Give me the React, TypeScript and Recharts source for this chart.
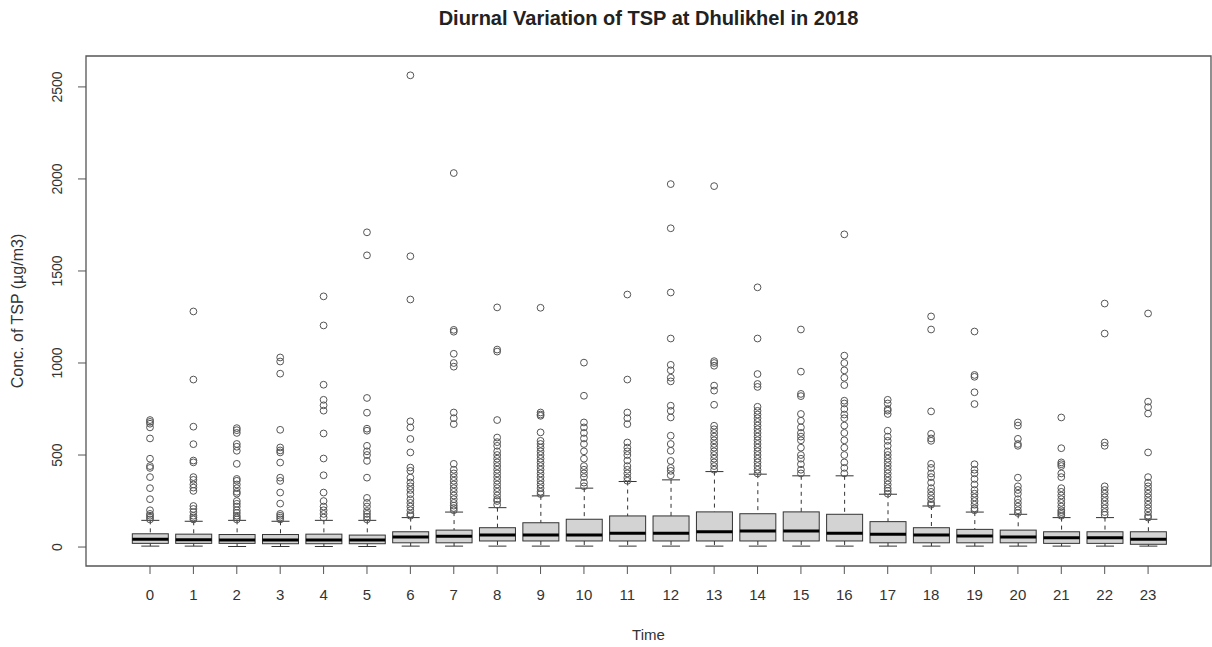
import { ComposedChart, Bar, Scatter, XAxis, YAxis, ReferenceArea } from 'recharts'

// hour of day, 0..23
const HOURS = Array.from({ length: 24 }, (_, i) => i)
const Y_TICKS = [0, 500, 1000, 1500, 2000, 2500]

// box statistics (µg/m3)
const LO = [5, 5, 3, 3, 3, 3, 5, 5, 5, 5, 5, 5, 5, 5, 5, 5, 5, 5, 5, 5, 5, 5, 5, 5]
const Q1 = [20, 20, 20, 18, 18, 18, 23, 23, 33, 33, 33, 33, 33, 33, 33, 33, 33, 23, 23, 23, 23, 20, 20, 15]
const MED = [42, 40, 38, 38, 38, 38, 54, 58, 65, 65, 65, 75, 75, 83, 87, 87, 75, 69, 65, 60, 54, 51, 51, 42]
const Q3 = [72, 70, 68, 68, 70, 65, 83, 92, 105, 132, 151, 169, 169, 191, 181, 191, 178, 138, 105, 96, 92, 83, 83, 83]
const HI = [145, 140, 145, 140, 145, 145, 160, 190, 214, 278, 320, 356, 365, 410, 396, 387, 387, 287, 223, 190, 178, 160, 160, 151]

const OUTLIERS: number[][] = [
  [690, 680, 670, 650, 590, 480, 440, 430, 380, 320, 260, 200, 180, 170, 160, 150],
  [1280, 910, 654, 559, 470, 460, 380, 365, 340, 323, 305, 223, 207, 190, 170, 160, 150],
  [646, 635, 620, 560, 545, 523, 452, 370, 360, 340, 320, 300, 290, 250, 235, 220, 200, 185, 170, 160, 150],
  [1030, 1008, 942, 637, 541, 525, 514, 459, 377, 359, 296, 236, 180, 170, 160, 150],
  [1362, 1204, 882, 800, 770, 741, 617, 481, 390, 296, 250, 220, 200, 180, 160],
  [1710, 1585, 810, 730, 643, 632, 550, 520, 500, 468, 377, 267, 240, 220, 196, 180, 165, 150],
  [2563, 1580, 1345, 683, 650, 587, 514, 432, 414, 377, 350, 330, 310, 287, 260, 240, 220, 200, 180, 170],
  [2032, 1180, 1170, 1050, 1000, 980, 731, 700, 668, 452, 420, 400, 380, 360, 340, 320, 300, 280, 260, 240, 225, 212, 200],
  [1302, 1073, 1062, 690, 595, 570, 550, 520, 500, 480, 460, 440, 420, 400, 380, 360, 340, 320, 300, 280, 260, 250, 230],
  [1300, 731, 720, 713, 623, 577, 560, 540, 520, 500, 480, 460, 440, 420, 400, 380, 360, 340, 320, 300, 288],
  [1002, 822, 677, 650, 620, 590, 560, 520, 480, 440, 420, 400, 380, 350, 330],
  [1372, 910, 731, 700, 668, 568, 540, 520, 500, 470, 440, 420, 400, 377, 360],
  [1972, 1732, 1383, 1133, 990, 960, 920, 900, 768, 740, 704, 605, 560, 523, 468, 430, 414, 390],
  [1961, 1010, 1000, 985, 877, 850, 773, 659, 640, 620, 600, 580, 560, 540, 520, 500, 480, 460, 440, 420],
  [1411, 1133, 940, 886, 870, 762, 740, 720, 700, 680, 660, 640, 620, 600, 580, 560, 540, 520, 500, 480, 460, 440, 420, 400],
  [1182, 953, 832, 820, 723, 686, 650, 620, 600, 580, 540, 500, 480, 450, 420, 400],
  [1699, 1040, 1000, 960, 920, 880, 795, 780, 750, 720, 700, 660, 620, 580, 540, 500, 460, 430, 400],
  [800, 780, 750, 741, 723, 632, 600, 577, 550, 520, 500, 480, 460, 440, 420, 400, 380, 360, 340, 320, 305, 290],
  [1253, 1182, 737, 615, 590, 577, 452, 430, 400, 380, 350, 320, 300, 280, 260, 240, 230],
  [1171, 935, 925, 841, 777, 450, 420, 400, 370, 340, 310, 290, 270, 250, 230, 210, 200],
  [677, 660, 588, 560, 550, 377, 330, 310, 290, 260, 240, 220, 200, 185],
  [704, 537, 460, 450, 440, 400, 380, 320, 300, 280, 260, 240, 220, 200, 190, 180, 170],
  [1323, 1160, 568, 550, 330, 310, 290, 270, 250, 230, 210, 190, 175],
  [1269, 790, 760, 725, 514, 380, 350, 330, 310, 290, 270, 250, 230, 210, 190, 170, 160],
]

// R-style axis extents (4% padding)
const X_DOMAIN: [number, number] = [-1.475, 24.45]
const Y_DOMAIN: [number, number] = [-103, 2668]

const FONT = '"Liberation Sans", Arial, sans-serif'
const INK = '#333'

const boxData = HOURS.map((h, i) => ({ hour: h, lo: LO[i], q1: Q1[i], med: MED[i], q3: Q3[i], hi: HI[i] }))
const outlierData = HOURS.flatMap((h, i) => OUTLIERS[i].map((v) => ({ hour: h, v })))

function BoxShape(props: any) {
  const { x, y, width, height, payload } = props
  const { lo, q1, med, q3, hi } = payload
  const top = Math.min(y, y + height)
  const bottom = Math.max(y, y + height)
  const py = (v: number) => top + ((hi - v) / (hi - lo)) * (bottom - top)
  const cx = x + width / 2
  const cap = width / 4
  return (
    <g>
      <line x1={cx} x2={cx} y1={py(hi)} y2={py(q3)} stroke={INK} strokeDasharray="4 4" />
      <line x1={cx} x2={cx} y1={py(q1)} y2={py(lo)} stroke={INK} strokeDasharray="4 4" />
      <line x1={cx - cap} x2={cx + cap} y1={py(hi)} y2={py(hi)} stroke={INK} />
      <line x1={cx - cap} x2={cx + cap} y1={py(lo)} y2={py(lo)} stroke={INK} />
      <rect x={x} y={py(q3)} width={width} height={py(q1) - py(q3)} fill="#d3d3d3" stroke={INK} />
      <line x1={x} x2={x + width} y1={py(med)} y2={py(med)} stroke="#000" strokeWidth={3} />
    </g>
  )
}

function YTick(props: any) {
  const { x, y, payload } = props
  return (
    <text x={x - 14} y={y} transform={`rotate(-90 ${x - 14} ${y})`} textAnchor="middle" fontSize={14} fill={INK} fontFamily={FONT}>
      {payload.value}
    </text>
  )
}

export default function App() {
  return (
    <div style={{ position: 'absolute', left: 0, top: 0, width: 1212, height: 647, background: '#fff', fontFamily: FONT }}>
      <div style={{ position: 'absolute', left: 86, top: 7, width: 1125, textAlign: 'center', fontWeight: 'bold', fontSize: 20, color: '#222' }}>
        Diurnal Variation of TSP at Dhulikhel in 2018
      </div>
      <ComposedChart width={1212} height={647} data={boxData} margin={{ top: 56, right: 1, bottom: 0, left: 0 }}>
        <XAxis
          type="number"
          dataKey="hour"
          domain={X_DOMAIN}
          ticks={HOURS}
          interval={0}
          allowDataOverflow
          height={81}
          tickSize={8}
          tickMargin={15}
          axisLine={false}
          tickLine={{ stroke: '#555' }}
          tick={{ fontSize: 15, fill: INK, fontFamily: FONT }}
          label={{ value: 'Time', position: 'insideBottom', offset: 7, fontSize: 15, fill: INK, fontFamily: FONT }}
        />
        <YAxis
          type="number"
          domain={Y_DOMAIN}
          ticks={Y_TICKS}
          allowDataOverflow
          width={86}
          tickSize={8}
          axisLine={false}
          tickLine={{ stroke: '#555' }}
          tick={<YTick />}
          label={{
            content: ({ viewBox }: any) => (
              <text
                x={viewBox.x + 17}
                y={viewBox.y + viewBox.height / 2}
                transform={`rotate(-90 ${viewBox.x + 17} ${viewBox.y + viewBox.height / 2})`}
                textAnchor="middle"
                dominantBaseline="central"
                fontSize={16}
                fill={INK}
                fontFamily={FONT}
              >
                Conc. of TSP (µg/m3)
              </text>
            ),
          }}
        />
        <Bar dataKey={(d: any) => [d.lo, d.hi]} barSize={36} shape={<BoxShape />} isAnimationActive={false} />
        <Scatter
          data={outlierData}
          dataKey="v"
          isAnimationActive={false}
          shape={(p: any) => <circle cx={p.cx} cy={p.cy} r={3.4} fill="none" stroke="#555" strokeWidth={1} />}
        />
        <ReferenceArea x1={X_DOMAIN[0]} x2={X_DOMAIN[1]} y1={Y_DOMAIN[0]} y2={Y_DOMAIN[1]} fill="none" stroke="#555" strokeWidth={1.3} />
      </ComposedChart>
    </div>
  )
}
